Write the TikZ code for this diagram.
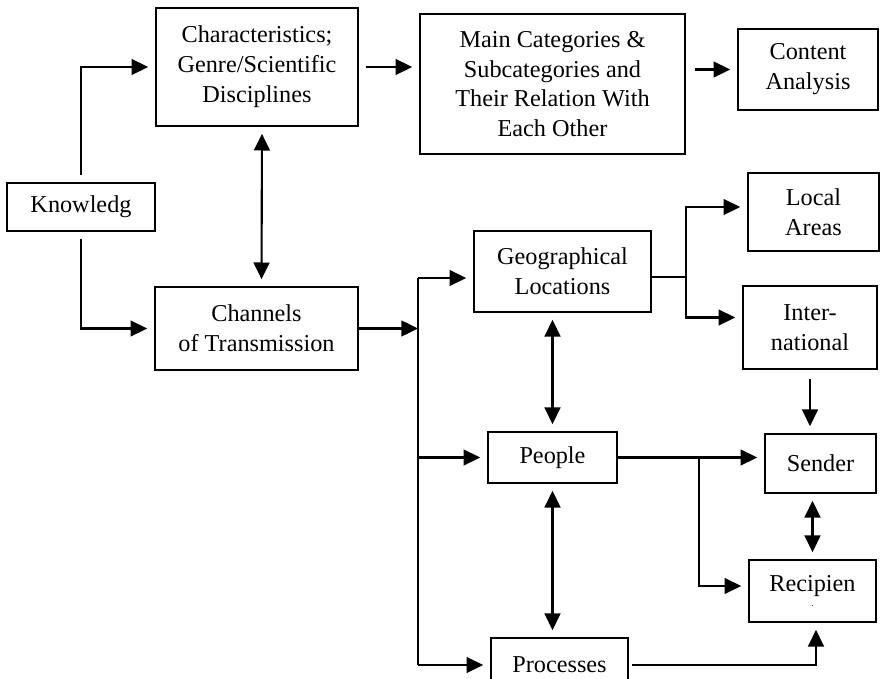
\documentclass[tikz,border=0pt]{standalone}
\usepackage{fontspec}
\setmainfont{Liberation Serif}
\usetikzlibrary{arrows.meta}

\begin{document}
\begin{tikzpicture}[
        x=0.02cm, y=-0.02cm,
        box/.style={rectangle, draw, line width=0.9pt, align=center, inner sep=2pt, font=\fontsize{13.8}{17}\selectfont},
        link/.style={line width=1.2pt},
        arr/.style={link, -{Triangle[length=9.5pt,width=9pt]}, shorten >=4pt},
        dbl/.style={link, {Triangle[length=9.5pt,width=9pt]}-{Triangle[length=9.5pt,width=9pt]}, shorten >=4pt, shorten <=4pt}
    ]
        \useasboundingbox (0,0) rectangle (880,679);

        % Left column
        \node[box, minimum width=2.96cm, minimum height=0.96cm] (knowledge) at (81,207) {Knowledg};
        \node[box, minimum width=4.04cm, minimum height=2.36cm] (charac) at (257,67) {Characteristics;\\Genre/Scientific\\Disciplines};
        \node[box, minimum width=4.06cm, minimum height=1.66cm] (channels) at (256.5,328.5) {Channels\\of Transmission};

        % Top row
        \node[box, minimum width=5.3cm, minimum height=2.8cm] (maincat) at (552.5,84) {Main Categories \&\\Subcategories and\\Their Relation With\\Each Other};
        \node[box, minimum width=2.8cm, minimum height=1.62cm] (content) at (808,69.5) {Content\\Analysis};

        % Middle column
        \node[box, minimum width=3.54cm, minimum height=1.62cm] (geo) at (562.5,271.5) {Geographical\\Locations};
        \node[box, minimum width=2.58cm, minimum height=1.02cm] (people) at (552.5,457.5) {People};
        \node[box, minimum width=2.74cm, minimum height=1.08cm] (proc) at (559.5,665) {Processes};

        % Right column
        \node[box, minimum width=2.62cm, minimum height=1.56cm] (local) at (813.5,212) {Local\\Areas};
        \node[box, minimum width=2.68cm, minimum height=1.66cm] (inter) at (810,327.5) {Inter-\\national};
        \node[box, minimum width=2.22cm, minimum height=1.18cm] (sender) at (820.5,463.5) {Sender};
        \node[box, minimum width=2.54cm, minimum height=1.24cm] (recip) at (812.5,591) {Recipien\\[-8pt]{\tiny .}};

        % Junction points
        \coordinate (trunk_top) at (418,278);
        \coordinate (trunk_bot) at (418,665);
        \coordinate (geo_split) at (686,277);
        \coordinate (people_split) at (699,457.5);

        % Knowledge branches
        \draw[arr, shorten <=4pt] (knowledge.north) |- (charac.west);
        \draw[arr, shorten <=4pt] (knowledge.south) |- (channels.west);
        \draw[dbl] ([xshift=0.1cm]charac.south) -- ([xshift=0.1cm]channels.north);
        \draw[arr, shorten <=4pt] (charac) -- (charac -| maincat.west);
        \draw[arr, shorten <=5pt] (maincat.east |- content) -- (content);

        % Trunk from channels
        \draw[link] (trunk_top) -- (trunk_bot);
        \draw[arr, shorten >=0pt] (channels.east) -- (channels.east -| trunk_top);
        \draw[arr] (trunk_top) -- (trunk_top -| geo.west);
        \draw[arr] (trunk_top |- people) -- (people);
        \draw[arr] (trunk_bot) -- (proc);

        % Geographical split
        \draw[link] (geo.east |- geo_split) -- (geo_split);
        \draw[arr] (geo_split) |- ([yshift=0.1cm]local.west);
        \draw[arr] (geo_split) |- ([yshift=0.2cm]inter.west);
        \draw[dbl] (geo.south -| people) -- (people);
        \draw[arr, shorten <=5pt] (inter.south) -- (inter.south |- sender.north);

        % People to sender and recipient
        \draw[arr] (people.east) -- (people.east -| sender.west);
        \draw[arr] (people_split) |- ([yshift=0.1cm]recip.west);
        \draw[dbl] (people.south) -- (people.south |- proc.north);
        \draw[dbl] (sender.south -| recip) -- (recip);
        \draw[arr, shorten <=2pt] (proc.east) -| ([xshift=0.07cm]recip.south);

    \end{tikzpicture}
\end{document}
